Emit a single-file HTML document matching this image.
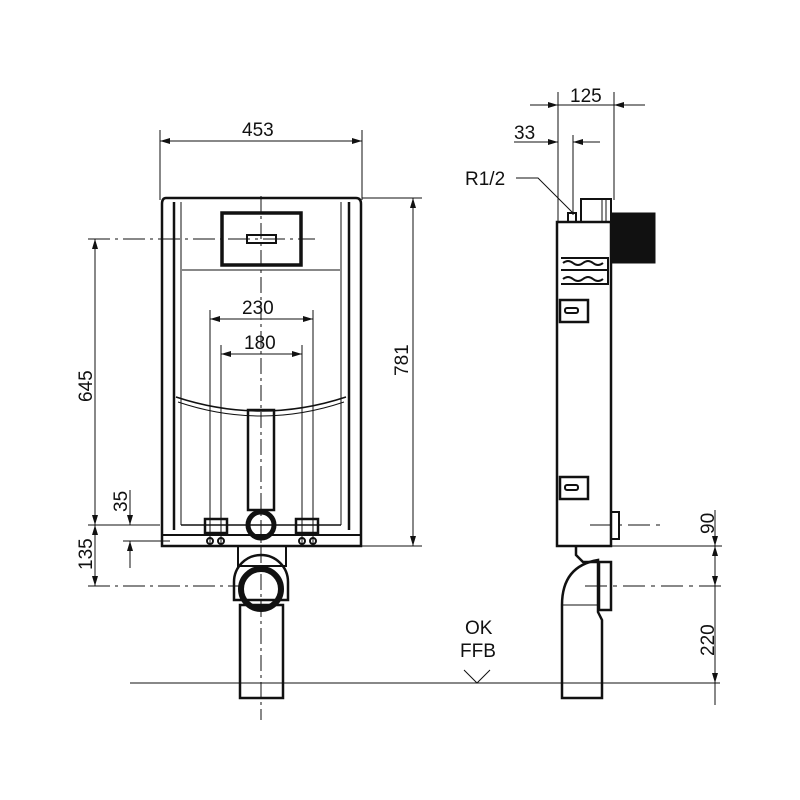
<!DOCTYPE html>
<html><head><style>body{margin:0;background:#fff}svg{display:block}text{font-family:"Liberation Sans",sans-serif;font-size:19px;fill:#111}</style></head><body>
<svg width="800" height="800" viewBox="0 0 800 800" xmlns="http://www.w3.org/2000/svg">
<defs><marker id="a" viewBox="0 0 10 6" refX="10" refY="3" markerWidth="10" markerHeight="6" orient="auto-start-reverse"><path d="M0,0L10,3L0,6z" fill="#111"/></marker></defs>
<g stroke="#111" fill="none" stroke-width="1">
<line x1="160" y1="130" x2="160" y2="200"/><line x1="362" y1="130" x2="362" y2="200"/>
<line x1="160" y1="141" x2="362" y2="141" marker-start="url(#a)" marker-end="url(#a)"/>
<line x1="362" y1="198" x2="422" y2="198"/><line x1="362" y1="546" x2="422" y2="546"/>
<line x1="413" y1="198" x2="413" y2="546" marker-start="url(#a)" marker-end="url(#a)"/>
<line x1="88" y1="239" x2="315" y2="239" stroke-dasharray="22,5,3,5"/>
<line x1="95" y1="239" x2="95" y2="525" marker-start="url(#a)" marker-end="url(#a)"/>
<line x1="88" y1="525" x2="160" y2="525"/>
<line x1="95" y1="525" x2="95" y2="586" marker-start="url(#a)" marker-end="url(#a)"/>
<line x1="88" y1="586" x2="240" y2="586" stroke-dasharray="22,5,3,5"/>
<line x1="123" y1="541" x2="170" y2="541"/>
<line x1="130" y1="490" x2="130" y2="525" marker-end="url(#a)"/>
<line x1="130" y1="568" x2="130" y2="541" marker-end="url(#a)"/>
<line x1="210" y1="310" x2="210" y2="545"/><line x1="313" y1="310" x2="313" y2="545"/>
<line x1="221" y1="345" x2="221" y2="545"/><line x1="302" y1="345" x2="302" y2="545"/>
<line x1="210" y1="319" x2="313" y2="319" marker-start="url(#a)" marker-end="url(#a)"/>
<line x1="221" y1="354" x2="302" y2="354" marker-start="url(#a)" marker-end="url(#a)"/>
<path d="M166,198 H356 Q361,198 361,204 V546 H162 V204 Q162,198 166,198Z" stroke-width="2.5"/>
<line x1="174" y1="202" x2="174" y2="530" stroke-width="2.5"/><line x1="349" y1="202" x2="349" y2="530" stroke-width="2.5"/>
<line x1="181" y1="202" x2="181" y2="525"/><line x1="341" y1="202" x2="341" y2="525"/>
<line x1="162" y1="535" x2="361" y2="535" stroke-width="2"/>
<line x1="181" y1="525" x2="341" y2="525" stroke-width="1.5"/>
<line x1="182" y1="270" x2="340" y2="270"/>
<path d="M176,397 Q261,425 346,397" stroke-width="1.5"/><path d="M178,402 Q261,430 344,402"/>
<rect x="222" y="213" width="79" height="52" stroke-width="3.5"/>
<rect x="247" y="235" width="29" height="8" stroke-width="2"/>
<line x1="261" y1="196" x2="261" y2="720" stroke-dasharray="16,4,3,4"/>
<rect x="248" y="410" width="26" height="100" stroke-width="2.5"/>
<circle cx="261" cy="525" r="13" stroke-width="5"/>
<rect x="205" y="519" width="22" height="14" stroke-width="2.5"/><rect x="296" y="519" width="22" height="14" stroke-width="2.5"/>
<circle cx="210" cy="541" r="3" stroke-width="2"/><circle cx="221" cy="541" r="3" stroke-width="2"/>
<circle cx="302" cy="541" r="3" stroke-width="2"/><circle cx="313" cy="541" r="3" stroke-width="2"/>
<rect x="238" y="546" width="48" height="20" stroke-width="2"/>
<path d="M234,582 A27,27 0 0 1 288,582 V600 H234Z" stroke-width="2.5"/>
<circle cx="261" cy="589" r="20" stroke-width="6"/>
<rect x="240" y="605" width="43" height="93" stroke-width="2.5"/>
<line x1="130" y1="683" x2="720" y2="683"/>
<polyline points="464,670 477,683 490,670"/>
<line x1="558" y1="92" x2="558" y2="222"/><line x1="614" y1="92" x2="614" y2="200"/>
<line x1="530" y1="105" x2="558" y2="105" marker-end="url(#a)"/><line x1="645" y1="105" x2="614" y2="105" marker-end="url(#a)"/>
<line x1="558" y1="105" x2="614" y2="105"/>
<line x1="573" y1="135" x2="573" y2="215"/>
<line x1="514" y1="142" x2="558" y2="142" marker-end="url(#a)"/><line x1="600" y1="142" x2="573" y2="142" marker-end="url(#a)"/>
<polyline points="516,178 538,178 573,213"/>
<rect x="557" y="222" width="54" height="324" stroke-width="2.5"/>
<rect x="581" y="199" width="30" height="23" stroke-width="2"/>
<line x1="602" y1="199" x2="602" y2="222"/><line x1="606" y1="199" x2="606" y2="222"/>
<rect x="568" y="213" width="8" height="9" stroke-width="2"/>
<rect x="612" y="213" width="43" height="50" fill="#111"/>
<path d="M561,258 H608 V284 H561 M561,270 H608 M563,263 q5,-4 10,0 t10,0 t10,0 t10,0 M563,279 q5,-4 10,0 t10,0 t10,0 t10,0" stroke-width="2"/>
<rect x="560" y="300" width="28" height="22" stroke-width="2.5"/><rect x="565" y="308" width="13" height="5" rx="2" stroke-width="2"/>
<rect x="560" y="477" width="28" height="22" stroke-width="2.5"/><rect x="565" y="485" width="13" height="5" rx="2" stroke-width="2"/>
<rect x="611" y="512" width="8" height="27" stroke-width="2"/>
<line x1="590" y1="525" x2="662" y2="525" stroke-dasharray="22,6,4,6"/>
<path d="M576,547 V555 L583,562 H598" stroke-width="2.5"/>
<path d="M562,698 V605 Q562,566 598,560 V612 L602,620 V698Z" stroke-width="2.5"/>
<line x1="562" y1="605" x2="597" y2="605"/>
<rect x="599" y="562" width="12" height="48" stroke-width="2.5"/>
<line x1="585" y1="586" x2="722" y2="586" stroke-dasharray="22,6,4,6"/>
<line x1="611" y1="546" x2="722" y2="546"/>
<line x1="715" y1="510" x2="715" y2="546" marker-end="url(#a)"/>
<line x1="715" y1="546" x2="715" y2="586" marker-start="url(#a)" marker-end="url(#a)"/>
<line x1="715" y1="586" x2="715" y2="683" marker-end="url(#a)"/>
<line x1="715" y1="683" x2="715" y2="705"/>
</g>
<text x="242" y="136">453</text>
<text x="242" y="314">230</text>
<text x="244" y="349">180</text>
<text x="465" y="634">OK</text><text x="460" y="657">FFB</text>
<text x="570" y="102">125</text>
<text x="514" y="139">33</text>
<text x="465" y="185">R1/2</text>
<text transform="translate(408,376) rotate(-90)">781</text>
<text transform="translate(92,402) rotate(-90)">645</text>
<text transform="translate(127,512) rotate(-90)">35</text>
<text transform="translate(92,570) rotate(-90)">135</text>
<text transform="translate(714,534) rotate(-90)">90</text>
<text transform="translate(714,656) rotate(-90)">220</text>
</svg>
</body></html>
